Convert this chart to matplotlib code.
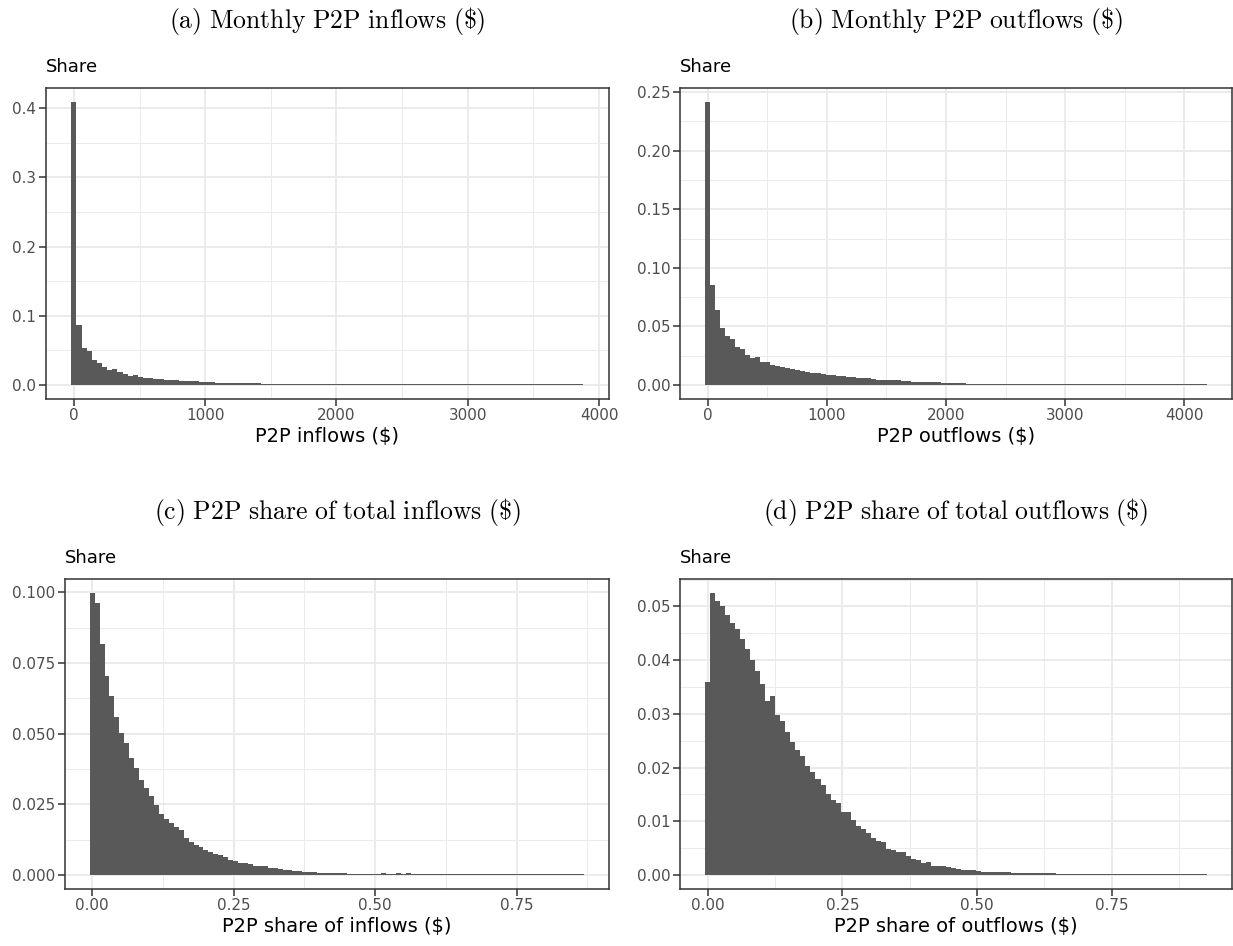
import numpy as np
import matplotlib
matplotlib.use("Agg")
import matplotlib.pyplot as plt
from matplotlib.ticker import MultipleLocator, FormatStrFormatter

plt.rcParams['font.family'] = ['DejaVu Sans']
plt.rcParams['mathtext.fontset'] = 'cm'

# histogram bin widths (x units) and bar heights (share), 100 bins each
inflow_bin = 39.0
outflow_bin = 42.1
share_in_bin = 0.00874
share_out_bin = 0.00931

inflow_share = [
    0.409, 0.087, 0.054, 0.0495, 0.0365, 0.032, 0.026, 0.021, 0.0226, 0.018,
    0.0155, 0.013, 0.014, 0.011, 0.0105, 0.0105, 0.009, 0.0078, 0.0077, 0.0075,
    0.0067, 0.006, 0.0054, 0.0052, 0.0051, 0.0044, 0.0043, 0.0036, 0.0034, 0.0032,
    0.0031, 0.003, 0.0024, 0.0023, 0.0022, 0.0022, 0.0021, 0.002, 0.002, 0.0019,
    0.0018, 0.0018, 0.0017, 0.0013, 0.0012, 0.0012, 0.0011, 0.0011, 0.001, 0.001,
    0.001, 0.0011, 0.0011, 0.0011, 0.0011, 0.0011, 0.0011, 0.0011, 0.0011, 0.0011,
    0.0011, 0.0011, 0.0011, 0.0011, 0.0011, 0.0011, 0.0011, 0.0011, 0.0011, 0.0011,
    0.0011, 0.0011, 0.0011, 0.0011, 0.0011, 0.0011, 0.0011, 0.0011, 0.0011, 0.0011,
    0.0011, 0.0011, 0.0009, 0.0009, 0.0009, 0.0009, 0.0009, 0.0009, 0.0009, 0.0009,
    0.0009, 0.0009, 0.0009, 0.0009, 0.0009, 0.0009, 0.0009, 0.0009, 0.0009, 0.0009]

outflow_share = [
    0.2415, 0.0855, 0.0642, 0.0489, 0.042, 0.0395, 0.032, 0.0304, 0.0258, 0.0227,
    0.0236, 0.0199, 0.0199, 0.0173, 0.0162, 0.015, 0.0145, 0.0133, 0.0125, 0.0122,
    0.0108, 0.0105, 0.0099, 0.0091, 0.0088, 0.0082, 0.008, 0.0074, 0.0068, 0.0066,
    0.0062, 0.0057, 0.0056, 0.0051, 0.0045, 0.0045, 0.0043, 0.004, 0.0039, 0.0034,
    0.0032, 0.0028, 0.0028, 0.0027, 0.0023, 0.0021, 0.0021, 0.002, 0.002, 0.002,
    0.0018, 0.0017, 0.0011, 0.0011, 0.0009, 0.0009, 0.0009, 0.0009, 0.0009, 0.0009,
    0.0009, 0.0009, 0.0008, 0.0008, 0.0008, 0.0008, 0.0008, 0.0008, 0.0008, 0.0008,
    0.0008, 0.0008, 0.0008, 0.0008, 0.0008, 0.0008, 0.0008, 0.0008, 0.0008, 0.0008,
    0.0008, 0.0008, 0.0008, 0.0008, 0.0008, 0.0008, 0.0008, 0.0008, 0.0008, 0.0008,
    0.0008, 0.0008, 0.0008, 0.0008, 0.0008, 0.0008, 0.0008, 0.0008, 0.0008, 0.0004]

share_in_share = [
    0.0997, 0.0963, 0.0817, 0.0704, 0.0632, 0.056, 0.0501, 0.0465, 0.0412, 0.0377,
    0.0337, 0.0306, 0.0278, 0.0247, 0.0216, 0.0197, 0.0182, 0.017, 0.0158, 0.0129,
    0.0115, 0.0106, 0.0099, 0.0089, 0.008, 0.0075, 0.0072, 0.0063, 0.0053, 0.005,
    0.0043, 0.0042, 0.0039, 0.0033, 0.0032, 0.0032, 0.0026, 0.0026, 0.0021, 0.0016,
    0.0016, 0.0014, 0.0012, 0.0009, 0.0009, 0.0009, 0.0007, 0.0007, 0.0006, 0.0006,
    0.0006, 0.0005, 0.0004, 0.0004, 0.0004, 0.0004, 0.0003, 0.0003, 0.0003, 0.0006,
    0.0003, 0.0003, 0.0006, 0.0003, 0.0006, 0.0003, 0.0003, 0.0003, 0.0003, 0.0003,
    0.0003, 0.0003, 0.0003, 0.0003, 0.0003, 0.0003, 0.0003, 0.0003, 0.0003, 0.0003,
    0.0003, 0.0003, 0.0003, 0.0003, 0.0003, 0.0003, 0.0003, 0.0003, 0.0003, 0.0003,
    0.0003, 0.0003, 0.0003, 0.0003, 0.0003, 0.0003, 0.0003, 0.0003, 0.0003, 0.0003]

share_out_share = [
    0.0359, 0.0525, 0.0511, 0.0501, 0.0484, 0.0469, 0.0458, 0.044, 0.0421, 0.04,
    0.038, 0.0356, 0.0323, 0.0334, 0.0297, 0.0286, 0.0267, 0.0247, 0.0232, 0.0222,
    0.0203, 0.0191, 0.0178, 0.0167, 0.015, 0.0139, 0.0133, 0.0117, 0.0117, 0.0102,
    0.0091, 0.0085, 0.0078, 0.0069, 0.0063, 0.0061, 0.0049, 0.0046, 0.0043, 0.0043,
    0.0036, 0.003, 0.0027, 0.0023, 0.0024, 0.0017, 0.0017, 0.0017, 0.0014, 0.0013,
    0.0011, 0.0009, 0.0009, 0.0009, 0.0007, 0.0006, 0.0006, 0.0005, 0.0005, 0.0005,
    0.0005, 0.0004, 0.0003, 0.0003, 0.0003, 0.0003, 0.0003, 0.0003, 0.0003, 0.0003,
    0.0002, 0.0002, 0.0002, 0.0002, 0.0002, 0.0002, 0.0002, 0.0002, 0.0002, 0.0002,
    0.0002, 0.0002, 0.0002, 0.0002, 0.0002, 0.0002, 0.0002, 0.0002, 0.0002, 0.0002,
    0.0002, 0.0002, 0.0002, 0.0002, 0.0002, 0.0002, 0.0002, 0.0002, 0.0002, 0.0002]

titles = ["(a) Monthly P2P inflows (\\$)", "(b) Monthly P2P outflows (\\$)",
          "(c) P2P share of total inflows (\\$)", "(d) P2P share of total outflows (\\$)"]
xlabels = ["P2P inflows ($)", "P2P outflows ($)",
           "P2P share of inflows ($)", "P2P share of outflows ($)"]

BAR = '#595959'
GRID = '#EBEBEB'
DARK = '#333333'


def draw_panel(ax, heights, width, xlabel, xmajor, xfmt, ymajor, yfmt):
    heights = np.array(heights)
    centers = np.arange(len(heights)) * width
    ax.bar(centers, heights, width=width, color=BAR, linewidth=0, zorder=3)

    left = -width / 2
    right = (len(heights) - 0.5) * width
    span = right - left
    ax.set_xlim(left - 0.05 * span, right + 0.05 * span)
    ymax = heights.max()
    ax.set_ylim(-0.05 * ymax, 1.05 * ymax)

    ax.xaxis.set_major_locator(MultipleLocator(xmajor))
    ax.xaxis.set_minor_locator(MultipleLocator(xmajor / 2))
    ax.yaxis.set_major_locator(MultipleLocator(ymajor))
    ax.yaxis.set_minor_locator(MultipleLocator(ymajor / 2))
    ax.xaxis.set_major_formatter(FormatStrFormatter(xfmt))
    ax.yaxis.set_major_formatter(FormatStrFormatter(yfmt))

    ax.grid(which='major', color=GRID, linewidth=1.4, zorder=0)
    ax.grid(which='minor', color=GRID, linewidth=0.7, zorder=0)
    ax.set_axisbelow(True)

    ax.tick_params(which='major', direction='out', length=4.8, width=1.1,
                   color=DARK, labelcolor='#4D4D4D', labelsize=10.9)
    ax.tick_params(axis='x', which='major', pad=1.5)
    ax.tick_params(axis='y', which='major', pad=2.2)
    ax.tick_params(which='minor', length=0)
    for s in ax.spines.values():
        s.set_color(DARK)
        s.set_linewidth(1.1)

    ax.set_xlabel(xlabel, fontsize=14, color='black', labelpad=3)
    ax.annotate("Share", xy=(0, 1), xycoords='axes fraction',
                xytext=(0, 11.5), textcoords='offset points',
                ha='left', va='baseline', fontsize=13, color='black')


fig = plt.figure(figsize=(12.33, 9.46), dpi=100)

ax_a = fig.add_axes([0.0371, 0.5782, 0.4568, 0.3288])
ax_b = fig.add_axes([0.5515, 0.5782, 0.4477, 0.3288])
ax_c = fig.add_axes([0.0527, 0.0603, 0.4412, 0.3277])
ax_d = fig.add_axes([0.5515, 0.0603, 0.4477, 0.3277])

draw_panel(ax_a, inflow_share, inflow_bin, xlabels[0], 1000, '%d', 0.1, '%.1f')
draw_panel(ax_b, outflow_share, outflow_bin, xlabels[1], 1000, '%d', 0.05, '%.2f')
draw_panel(ax_c, share_in_share, share_in_bin, xlabels[2], 0.25, '%.2f', 0.025, '%.3f')
draw_panel(ax_d, share_out_share, share_out_bin, xlabels[3], 0.25, '%.2f', 0.01, '%.2f')

# panel titles in computer modern, centred over each panel
for ax, t, y in [(ax_a, titles[0], 925), (ax_b, titles[1], 925),
                 (ax_c, titles[2], 434), (ax_d, titles[3], 434)]:
    box = ax.get_position()
    fig.text((box.x0 + box.x1) / 2, y / 946, r"$\mathrm{" + t.replace(" ", "\\ ") + "}$",
             ha='center', va='center', fontsize=18.5)

fig.savefig("out.png", dpi=100)
